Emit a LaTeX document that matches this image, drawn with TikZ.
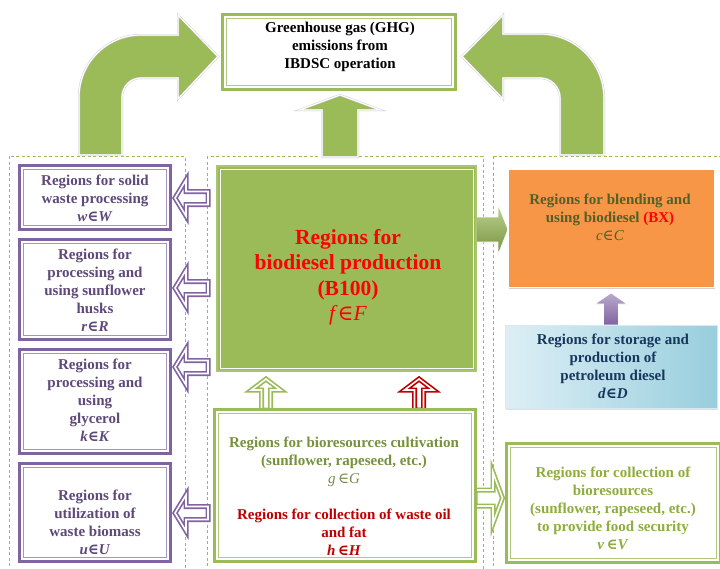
\documentclass[tikz,border=0pt]{standalone}
\usepackage{fontspec}
\setmainfont{Liberation Serif}
\newfontfamily\symf{DejaVu Serif}
\usetikzlibrary{shadows,calc}
\definecolor{grn}{HTML}{9BBB59}
\definecolor{grnd}{HTML}{76923C}
\definecolor{grnt}{HTML}{8FAD3F}
\definecolor{purp}{HTML}{8064A2}
\definecolor{purpt}{HTML}{5F497A}
\definecolor{orng}{HTML}{F79646}
\definecolor{olivt}{HTML}{4F6228}
\definecolor{navyt}{HTML}{17375E}
\definecolor{dred}{HTML}{C00000}
\definecolor{bluel}{HTML}{DDEFF5}
\definecolor{blued}{HTML}{98CEDD}
\newcommand\memb[2]{\textit{#1}{\symf ∈}\textit{#2}}
% block arrows: style, tip, length, head length, head half, shaft half
\newcommand\arrL[6]{\draw[#1] (#2) -- ++(#4,-#5) -- ++(0,#5-#6) -- ++(#3-#4,0) -- ++(0,2*#6) -- ++(#4-#3,0) -- ++(0,#5-#6) -- cycle;}
\newcommand\arrR[6]{\draw[#1] (#2) -- ++(-#4,-#5) -- ++(0,#5-#6) -- ++(#4-#3,0) -- ++(0,2*#6) -- ++(#3-#4,0) -- ++(0,#5-#6) -- cycle;}
\newcommand\arrU[6]{\draw[#1] (#2) -- ++(-#5,#4) -- ++(#5-#6,0) -- ++(0,#3-#4) -- ++(2*#6,0) -- ++(0,#4-#3) -- ++(#5-#6,0) -- cycle;}
% inner thin frame of a double-bordered box
\newcommand\inframe[2]{\draw[#2, line width=0.9pt] ($(#1.north west)+(3.6,3.6)$) rectangle ($(#1.south east)+(-3.6,-3.6)$);}
\begin{document}
\begin{tikzpicture}[x=1pt,y=-1pt,
  cont/.style={draw=grn, line width=0.9pt, dash pattern=on 3pt off 2.5pt},
  pbox/.style={draw=purp, line width=3pt, fill=white, inner sep=0pt, outer sep=0pt},
  gbox/.style={draw=grn, line width=3pt, fill=white, inner sep=0pt, outer sep=0pt},
  txt/.style={align=center, inner sep=0pt, font=\fontsize{15}{18}\selectfont\bfseries},
  hollowP/.style={draw=purp, line width=1.7pt, double=white, double distance=1.6pt, fill=white},
  hollowG/.style={draw=grn, line width=1.7pt, double=white, double distance=1.6pt, fill=white},
  hollowR/.style={draw=dred, line width=1.7pt, double=white, double distance=1.6pt, fill=white},
  bigarrow/.style={fill=grn, draw=black!22, line width=0.4pt, double=white, double distance=1.2pt},
]
\clip (0,0) rectangle (720,568);
\fill[white] (0,0) rectangle (720,568);

% dashed containers
\draw[cont] (9,156) rectangle (185,590);
\draw[cont] (207,156) rectangle (483,590);
\draw[cont] (493,156) rectangle (740,590);

% big curved arrows
\draw[bigarrow] (79,155) -- (79,97) .. controls (79,62.8) and (106.8,35) .. (141,35)
  -- (178,35) -- (178,15) -- (218,56.5) -- (178,99) -- (178,78) -- (141,78)
  .. controls (130.5,78) and (122,86.5) .. (122,97) -- (122,155) -- cycle;
\draw[bigarrow] (604,155) -- (604,98) .. controls (604,62.7) and (575.3,34) .. (540,34)
  -- (503,34) -- (503,15) -- (462,56.5) -- (503,99) -- (503,78) -- (540,78)
  .. controls (551,78) and (560,87) .. (560,98) -- (560,155) -- cycle;
\arrU{bigarrow}{340,95}{62}{15}{40.5}{18}

% GHG box
\node[gbox, minimum width=233pt, minimum height=75pt] (ghg) at (339,52) {};
\inframe{ghg}{grn!80!white}
\node[txt] (ghgt) at (340,47) {Greenhouse gas (GHG)\\emissions from\\IBDSC operation};

% arrows under boxes
\arrL{hollowP}{175,198}{33}{11}{18}{6.5}
\arrL{hollowP}{175,288}{33}{11}{18}{6.5}
\arrL{hollowP}{175,367}{33}{11}{18}{6.5}
\arrL{hollowP}{175,513}{33}{11}{18}{6.5}
\arrU{hollowG}{266,379}{31}{11}{14.5}{4.5}
\arrU{hollowR}{419,379}{31}{11}{14.5}{4.5}
\arrR{hollowG}{502.5,498}{27.5}{9.5}{25.5}{8}
\arrR{top color=grn!65!white, bottom color=grnd, draw=white, line width=0.6pt}{508,229.5}{32}{10}{25}{12.5}
\arrU{top color=purp!55!white, bottom color=purp, draw=white, line width=0.6pt}{611,293}{32}{11}{16}{7.5}

% purple boxes
\node[pbox, minimum width=151pt, minimum height=64pt] (pb1) at (95,197.5) {};
\node[pbox, minimum width=151pt, minimum height=100pt] (pb2) at (95,289.5) {};
\node[pbox, minimum width=151pt, minimum height=104pt] (pb3) at (95,401.5) {};
\node[pbox, minimum width=151pt, minimum height=98pt] (pb4) at (95,512.5) {};
\inframe{pb1}{purp!70!white}
\inframe{pb2}{purp!70!white}
\inframe{pb3}{purp!70!white}
\inframe{pb4}{purp!70!white}
\node[txt, text=purpt] (pb1t) at (95,198) {Regions for solid\\waste processing\\\memb{w}{W}};
\node[txt, text=purpt] (pb2t) at (95,290) {Regions for\\processing and\\using sunflower\\husks\\\memb{r}{R}};
\node[txt, text=purpt] (pb3t) at (95,400) {Regions for\\processing and\\using\\glycerol\\\memb{k}{K}};
\node[txt, text=purpt] (pb4t) at (95,522) {Regions for\\utilization of\\waste biomass\\\memb{u}{U}};

% main box
\node[fill=grn, draw=grn!85!white, line width=2pt, minimum width=259pt, minimum height=205pt, inner sep=0pt] (main) at (346.5,268.5) {};
\draw[white, line width=0.9pt] ($(main.north west)+(4,4)$) rectangle ($(main.south east)+(-4,-4)$);
\node[align=center, inner sep=0pt, font=\fontsize{21.5}{25.5}\selectfont\bfseries, text=red] (maint) at (348,277)
  {Regions for\\biodiesel production\\(B100)\\{\mdseries\memb{f}{F}}};

% orange box
\node[fill=orng, draw=white, line width=1.5pt, minimum width=206.5pt, minimum height=118.5pt, inner sep=0pt,
  drop shadow={shadow xshift=1pt, shadow yshift=-1.5pt, opacity=0.35}] (orb) at (611,228) {};
\node[txt, text=olivt] (orbt) at (610,217) {Regions for blending and\\using biodiesel \textcolor{red}{(BX)}\\{\mdseries\memb{c}{C}}};

% blue box
\node[left color=bluel, right color=blued, draw=white!60!blued, line width=1pt, minimum width=212pt, minimum height=83pt, inner sep=0pt,
  drop shadow={shadow xshift=0.8pt, shadow yshift=-1pt, opacity=0.25}] (blb) at (611.5,367) {};
\node[txt, text=navyt] (blbt) at (613,366) {Regions for storage and\\production of\\petroleum diesel\\\memb{d}{D}};

% bottom middle box
\node[gbox, minimum width=261pt, minimum height=152pt] (bio) at (345,485.5) {};
\inframe{bio}{grn!80!white}
\node[txt, text=grnd] (biot) at (344,496) {Regions for bioresources cultivation\\(sunflower, rapeseed, etc.)\\
  \textcolor{grnd!75!gray}{\mdseries\memb{g\,}{G}}\\[18pt]
  \textcolor{dred}{Regions for collection of waste oil}\\\textcolor{dred}{and fat}\\\textcolor{dred}{\memb{h\,}{H}}};

% bottom right box
\node[gbox, minimum width=214pt, minimum height=119pt] (food) at (613.5,503) {};
\inframe{food}{grn!80!white}
\node[txt, text=grnt] (foodt) at (613,508) {Regions for collection of\\bioresources\\(sunflower, rapeseed, etc.)\\to provide food security\\\memb{v\,}{V}};
\end{tikzpicture}
\end{document}
